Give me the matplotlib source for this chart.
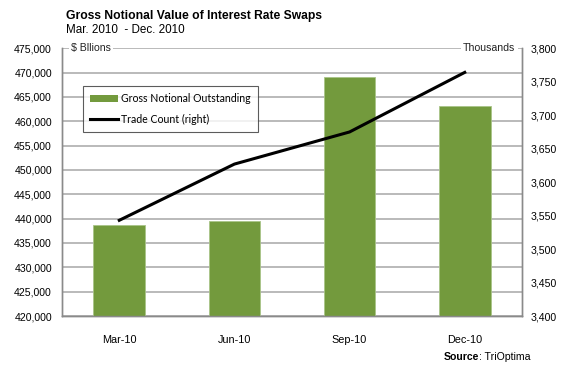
import matplotlib
matplotlib.use("Agg")
import matplotlib.pyplot as plt
from matplotlib.ticker import FuncFormatter, MultipleLocator
from matplotlib.patches import Patch
from matplotlib.lines import Line2D

categories = ["Mar-10", "Jun-10", "Sep-10", "Dec-10"]
gross_notional = [438700, 439500, 469100, 463100]   # $ billions
trade_count = [3543, 3627, 3675, 3764]              # thousands

title = "Gross Notional Value of Interest Rate Swaps"
subtitle = "Mar. 2010  - Dec. 2010"

BAR = "#739a3d"
GRID = "#b4b4b4"
SPINE = "#8a8a8a"
FONT = "Liberation Sans"

fig = plt.figure(figsize=(5.63, 3.67), dpi=100)
ax = fig.add_axes([61.7 / 563, 1 - 316 / 367, (522.3 - 61.7) / 563, (316 - 48.3) / 367])
ax2 = ax.twinx()

x = range(len(categories))
ax.bar(x, gross_notional, width=0.45, color=BAR, edgecolor="#a9c488", linewidth=0.6, zorder=3)
ax.set_xlim(-0.5, len(categories) - 0.5)
ax.set_ylim(420000, 475000)
ax.yaxis.set_major_locator(MultipleLocator(5000))
ax.yaxis.set_major_formatter(FuncFormatter(lambda v, p: f"{int(v):,}"))
ax.grid(axis="y", color=GRID, linewidth=1.3, zorder=0)
ax.set_axisbelow(True)
ax.set_xticks(list(x))
ax.set_xticklabels(categories, fontsize=7.8, family=FONT)
ax.tick_params(axis="x", length=0, pad=14)
ax.tick_params(axis="y", length=0, pad=7, labelsize=7.6)
for lab in ax.get_yticklabels():
    lab.set_family(FONT)

ax2.plot(list(x), trade_count, color="black", linewidth=2.2, zorder=4)
ax2.set_ylim(3400, 3800)
ax2.yaxis.set_major_locator(MultipleLocator(50))
ax2.yaxis.set_major_formatter(FuncFormatter(lambda v, p: f"{int(v):,}"))
ax2.tick_params(axis="y", length=0, pad=6, labelsize=7.6)
for lab in ax2.get_yticklabels():
    lab.set_family(FONT)

for a in (ax, ax2):
    a.spines["top"].set_visible(False)
    for s in ("left", "right", "bottom"):
        a.spines[s].set_color(SPINE)
        a.spines[s].set_linewidth(1.0)

# unit captions sitting on the top gridline
ax.text(0.02, 1.0, "$ Bllions", transform=ax.transAxes, ha="left", va="center",
        fontsize=7.6, family=FONT, color="#222222", zorder=5,
        bbox=dict(facecolor="white", edgecolor="none", pad=1.5))
ax.text(0.985, 1.0, "Thousands", transform=ax.transAxes, ha="right", va="center",
        fontsize=7.6, family=FONT, color="#222222", zorder=5,
        bbox=dict(facecolor="white", edgecolor="none", pad=1.5))

handles = [Patch(facecolor=BAR, edgecolor="none"),
           Line2D([0], [0], color="black", linewidth=2.2)]
leg = ax2.legend(handles, ["Gross Notional Outstanding", "Trade Count (right)"],
                 loc="upper left", bbox_to_anchor=(21 / 460.6, 1 - 37.7 / 267.7),
                 prop={"family": "Lato", "size": 7.6}, frameon=True, fancybox=False,
                 borderpad=0.7, handlelength=2.6, handletextpad=0.3, labelspacing=0.9,
                 borderaxespad=0)
leg.get_frame().set_edgecolor("#333333")
leg.get_frame().set_linewidth(0.8)
leg.set_zorder(10)

fig.text(66 / 563, 1 - 16 / 367, title, fontsize=8.7, fontweight="bold", family=FONT,
         ha="left", va="center")
fig.text(66 / 563, 1 - 30 / 367, subtitle, fontsize=8.4, family=FONT, ha="left", va="center")

src = fig.text(444 / 563, 1 - 357 / 367, "Source", fontsize=7.6, fontweight="bold",
               family=FONT, ha="left", va="center")
fig.canvas.draw()
bb = src.get_window_extent()
fig.text(bb.x1 / fig.bbox.width, 1 - 357 / 367, ": TriOptima", fontsize=7.6, family=FONT,
         ha="left", va="center")

fig.savefig("out.png", dpi=100)
